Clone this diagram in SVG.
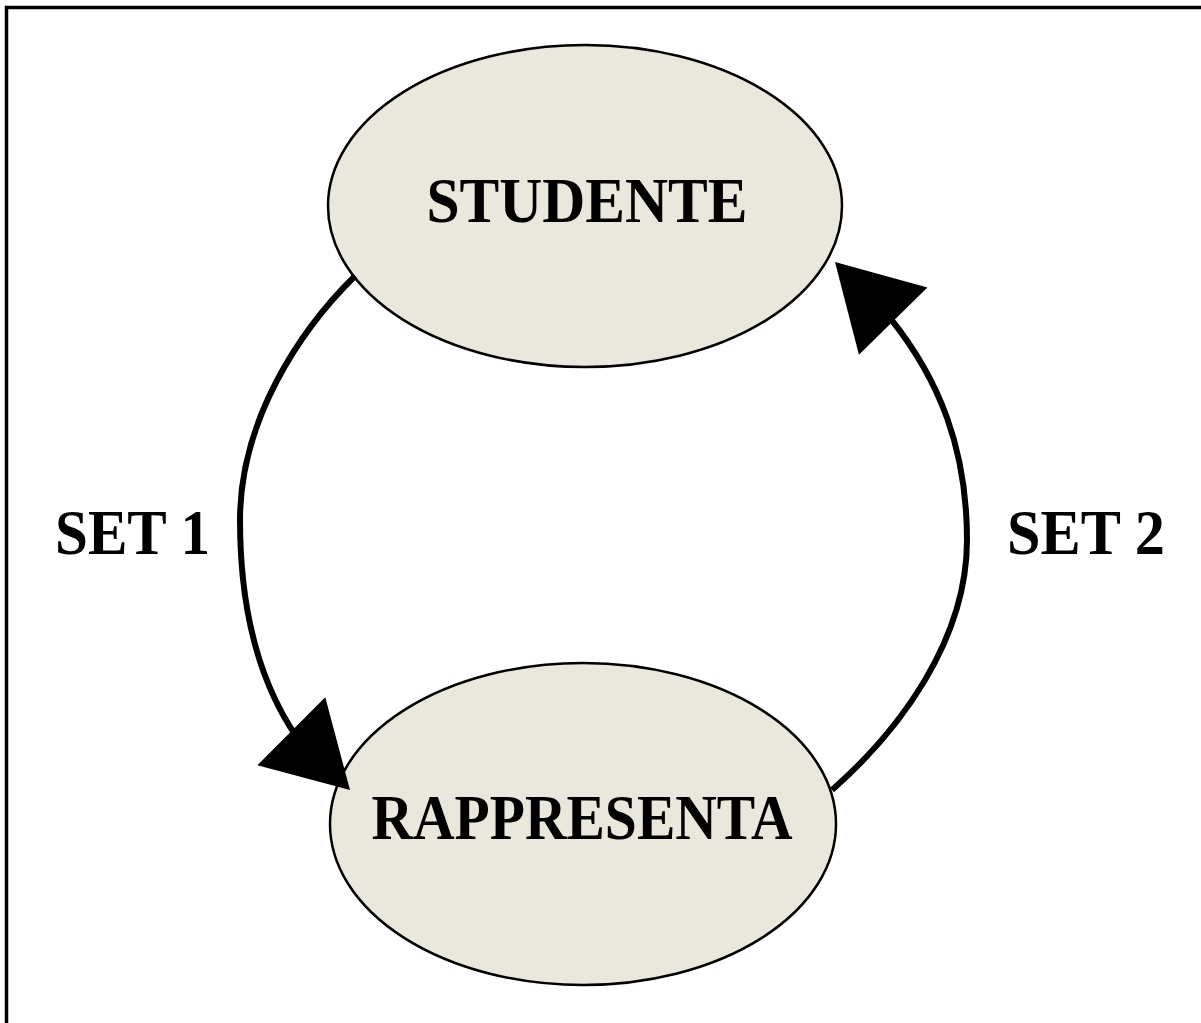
<svg xmlns="http://www.w3.org/2000/svg" width="1201" height="1023" viewBox="0 0 1201 1023">
  <style>
    .node { fill: #eae8dc; stroke: #000; stroke-width: 2.5; }
    .label { font-family: "Liberation Serif", "DejaVu Serif", serif; font-weight: bold; font-size: 64px; fill: #000; }
    .edge { fill: none; stroke: #000; stroke-width: 6; }
    .head { fill: #000; }
  </style>
  <defs>
    <!-- filled triangle arrowhead, tip at the origin pointing along +x -->
    <path id="arrowhead" class="head" d="M0,0 L-83,-48 L-83,48 Z"/>
  </defs>

  <rect x="0" y="0" width="1201" height="1023" fill="#fff"/>
  <!-- frame -->
  <path d="M6.5,1023 V7.5 H1201" fill="none" stroke="#000" stroke-width="3.5"/>

  <g id="node-studente">
    <ellipse class="node" cx="585" cy="206" rx="257" ry="161"/>
    <text class="label" x="587" y="222" text-anchor="middle" textLength="321" lengthAdjust="spacingAndGlyphs">STUDENTE</text>
  </g>

  <g id="node-rappresenta">
    <ellipse class="node" cx="583" cy="824" rx="253" ry="161"/>
    <text class="label" x="582" y="839" text-anchor="middle" textLength="421" lengthAdjust="spacingAndGlyphs">RAPPRESENTA</text>
  </g>

  <g id="connectors">
    <g id="edge-set1">
      <path class="edge" d="M355,276 C300,330 240,420 240,520 C240,610 258,680 296,736"/>
      <use href="#arrowhead" transform="translate(350,790) rotate(45)"/>
    </g>
    <g id="edge-set2">
      <path class="edge" d="M832,790 C900,730 967,640 967,540 C967,450 940,380 890,318"/>
      <use href="#arrowhead" transform="translate(835,262) rotate(225.5)"/>
    </g>
  </g>

  <g id="edge-labels">
    <text class="label" x="55" y="554" textLength="155" lengthAdjust="spacingAndGlyphs">SET 1</text>
    <text class="label" x="1007" y="554" textLength="158" lengthAdjust="spacingAndGlyphs">SET 2</text>
  </g>
</svg>
